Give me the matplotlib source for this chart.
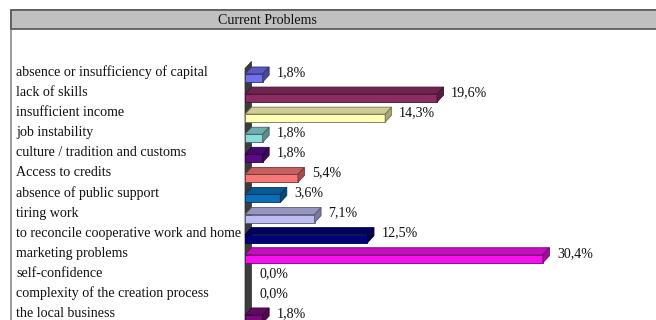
import matplotlib
matplotlib.use("Agg")
import matplotlib.pyplot as plt
from matplotlib.patches import Polygon, Rectangle
from matplotlib.colors import to_rgb
import matplotlib.transforms as mtransforms

# ---- data ----
categories = [
    "absence or insufficiency of capital",
    "lack of skills",
    "insufficient income",
    "job instability",
    "culture / tradition and customs",
    "Access to credits",
    "absence of public support",
    "tiring work",
    "to reconcile cooperative work and home",
    "marketing problems",
    "self-confidence",
    "complexity of the creation process",
    "the local business",
]
values = [1.8, 19.6, 14.3, 1.8, 1.8, 5.4, 3.6, 7.1, 12.5, 30.4, 0.0, 0.0, 1.8]
value_labels = ["1,8%", "19,6%", "14,3%", "1,8%", "1,8%", "5,4%", "3,6%",
                "7,1%", "12,5%", "30,4%", "0,0%", "0,0%", "1,8%"]
bar_colors = ["#7070f0", "#8b2c62", "#ffffb8", "#8cdada", "#5a0a88",
              "#f87878", "#0a6fb8", "#bcbcf4", "#00007a", "#f810f0",
              "#ffff00", "#00ffff", "#7a0a7a"]
title = "Current Problems"

# ---- geometry (pixels) ----
W, H = 656, 320
PX_PER_UNIT = 9.8      # pixels per percent
ROW_PX = 20.08         # pixels per category row
ROW0_PX = 72.5         # y of the first row label
ZERO_PX = 245.0        # x of the value axis origin

FONT = "Liberation Serif"
FS = 10.1


def shade(c, f):
    r, g, b = to_rgb(c)
    return (r * f, g * f, b * f)


fig = plt.figure(figsize=(W / 100, H / 100), dpi=100)
fig.patch.set_facecolor("white")
ax = fig.add_axes([0, 0, 1, 1])
ax.set_xlim(-ZERO_PX / PX_PER_UNIT, (W - ZERO_PX) / PX_PER_UNIT)
ax.set_ylim((H - ROW0_PX) / ROW_PX, -ROW0_PX / ROW_PX)
ax.axis("off")

# 3-D depth offsets in data units
dx = 6.5 / PX_PER_UNIT
dy = 7.0 / ROW_PX
front_top = 1.5 / ROW_PX      # front face top, relative to row centre
front_bot = 9.5 / ROW_PX      # front face bottom, relative to row centre

# chart frame and title band
frame = Rectangle((11 / W, -0.1), 1.2, 1.1 - 10.5 / H, transform=ax.transAxes,
                  facecolor="white", edgecolor="#8a8a8a", lw=1.2, zorder=0)
ax.add_patch(frame)
band = Rectangle((11 / W, 1 - 29 / H), 1.0, 18.5 / H, transform=ax.transAxes,
                 facecolor="#c0c0c0", edgecolor="#555555", lw=1.2, zorder=1)
ax.add_patch(band)
ax.text(267 / W, 1 - 20.5 / H, title, transform=ax.transAxes, ha="center",
        va="center", fontsize=FS, family=FONT, color="#111111", zorder=2)

# left side wall of the 3-D plot
n = len(categories)
wall_top = -0.2
wall_bot = n + 1
wall = Polygon([(0, wall_bot), (0, wall_top), (dx, wall_top - dy), (dx, wall_bot - dy)],
               closed=True, facecolor="#3c3c3c", edgecolor="#2a2a2a", lw=0.5, zorder=2)
ax.add_patch(wall)

label_tr = mtransforms.blended_transform_factory(fig.transFigure, ax.transData)

for i, (cat, v, lab, col) in enumerate(zip(categories, values, value_labels, bar_colors)):
    ax.text(16 / W, i, cat, transform=label_tr, ha="left", va="center",
            fontsize=FS, family=FONT, color="#111111")
    if v > 0:
        yt = i + front_top
        yb = i + front_bot
        edge = shade(col, 0.45)
        front = Polygon([(0, yb), (0, yt), (v, yt), (v, yb)], closed=True,
                        facecolor=col, edgecolor=edge, lw=0.6, zorder=3)
        top = Polygon([(0, yt), (v, yt), (v + dx, yt - dy), (dx, yt - dy)], closed=True,
                      facecolor=shade(col, 0.8), edgecolor=edge, lw=0.6, zorder=3)
        side = Polygon([(v, yt), (v + dx, yt - dy), (v + dx, yb - dy), (v, yb)], closed=True,
                       facecolor=shade(col, 0.65), edgecolor=edge, lw=0.6, zorder=3)
        for p in (front, top, side):
            ax.add_patch(p)
    ax.annotate(lab, xy=(v, i), xytext=(14 * 0.72, 0), textcoords="offset points",
                ha="left", va="center", fontsize=FS, family=FONT, color="#111111",
                zorder=4)

fig.savefig("out.png", dpi=100)
